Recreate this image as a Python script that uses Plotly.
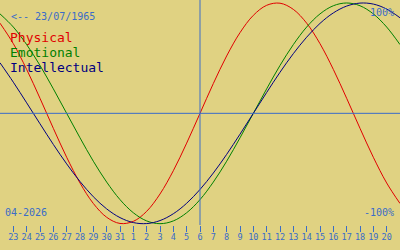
import plotly.graph_objects as go

# Day labels (22 Mar .. 21 Apr 2026); index 0 is 22 Mar
days = ["22", "23", "24", "25", "26", "27", "28", "29", "30", "31",
        "1", "2", "3", "4", "5", "6", "7", "8", "9", "10",
        "11", "12", "13", "14", "15", "16", "17", "18", "19", "20", "21"]

physical = [0.817, 0.631, 0.398, 0.136, -0.136, -0.398, -0.631, -0.817, -0.942, -0.998,
            -0.979, -0.888, -0.731, -0.520, -0.270, 0.0, 0.270, 0.520, 0.731, 0.888,
            0.979, 0.998, 0.942, 0.817, 0.631, 0.398, 0.136, -0.136, -0.398, -0.631, -0.817]
emotional = [0.901, 0.782, 0.623, 0.434, 0.222, 0.0, -0.222, -0.434, -0.623, -0.782,
             -0.901, -0.975, -1.0, -0.975, -0.901, -0.782, -0.623, -0.434, -0.222, 0.0,
             0.222, 0.434, 0.623, 0.782, 0.901, 0.975, 1.0, 0.975, 0.901, 0.782, 0.623]
intellectual = [0.458, 0.282, 0.095, -0.095, -0.282, -0.458, -0.618, -0.756, -0.866, -0.945,
                -0.990, -0.999, -0.972, -0.910, -0.815, -0.690, -0.541, -0.372, -0.189, 0.0,
                0.189, 0.372, 0.541, 0.690, 0.815, 0.910, 0.972, 0.999, 0.990, 0.945, 0.866]

birth_label = "<-- 23/07/1965"
month_label = "04-2026"
today_label = "6"
series_names = ["Physical", "Emotional", "Intellectual"]
colors = ["#e00000", "#008000", "#000080"]

BG = "#e0d282"
BLUE = "#3a6cc8"
MONO = "DejaVu Sans Mono"

x = list(range(len(days)))
today_idx = days.index(today_label, 10)

fig = go.Figure()
for name, vals, col in zip(series_names, [physical, emotional, intellectual], colors):
    fig.add_trace(go.Scatter(x=x, y=vals, mode="lines", line=dict(color=col, width=1, shape="spline"),
                             name=name, showlegend=False, hoverinfo="skip"))

fig.add_shape(type="line", xref="x", yref="paper", x0=today_idx, x1=today_idx, y0=0, y1=1,
              line=dict(color=BLUE, width=1))
fig.add_shape(type="line", xref="paper", yref="y", x0=0, x1=1, y0=0, y1=0,
              line=dict(color=BLUE, width=1))

ann = []
ann.append(dict(text=birth_label, x=10, y=16, font=dict(size=10, color=BLUE, family=MONO), xanchor="left"))
for i, (name, col) in enumerate(zip(series_names, colors)):
    ann.append(dict(text=name, x=9, y=38 + 15 * i, font=dict(size=13, color=col, family=MONO), xanchor="left"))
ann.append(dict(text="100%", x=395, y=12, font=dict(size=10, color=BLUE, family=MONO), xanchor="right"))
ann.append(dict(text="-100%", x=395, y=212, font=dict(size=10, color=BLUE, family=MONO), xanchor="right"))
ann.append(dict(text=month_label, x=4, y=212, font=dict(size=10, color=BLUE, family=MONO), xanchor="left"))
for a in ann:
    fig.add_annotation(xref="paper", yref="paper", x=a["x"] / 400, y=1 - a["y"] / 225,
                       text=a["text"], showarrow=False, xanchor=a["xanchor"], yanchor="middle",
                       font=a["font"], borderpad=0)

fig.update_layout(
    width=400, height=250,
    margin=dict(l=0, r=0, t=0, b=25),
    paper_bgcolor=BG, plot_bgcolor=BG,
    xaxis=dict(range=[-0.0, 30.0], tickvals=x[1:30], ticktext=days[1:30],
               ticks="outside", ticklen=6, tickcolor=BLUE, tickwidth=1,
               tickfont=dict(size=8.5, color=BLUE, family=MONO), ticklabelstandoff=-2,
               showgrid=False, zeroline=False, showline=False, fixedrange=True),
    yaxis=dict(range=[-1.012, 1.027], showticklabels=False, ticks="",
               showgrid=False, zeroline=False, showline=False, fixedrange=True),
)
fig.write_html("out.html")
